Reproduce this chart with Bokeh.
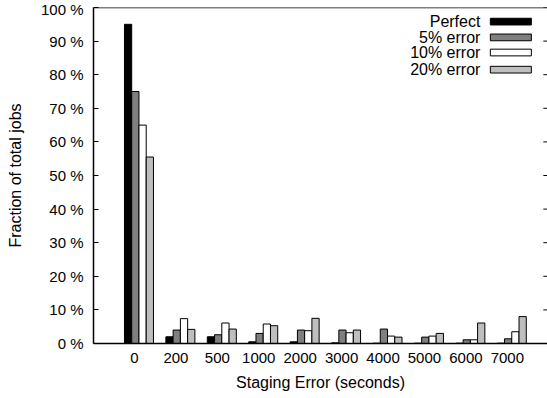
from bokeh.plotting import figure
from bokeh.models import FixedTicker, Range1d, Label, BoxAnnotation, Span
from bokeh.embed import file_html
from bokeh.resources import INLINE
import numpy as np

# ---- data ----
categories = ["0", "200", "500", "1000", "2000", "3000", "4000", "5000", "6000", "7000"]
perfect = [95.0, 2.0, 2.0, 0.5, 0.5, 0.2, 0.1, 0.1, 0.1, 0.1]
err5 = [75.0, 4.0, 2.6, 3.0, 4.0, 4.0, 4.3, 1.9, 1.1, 1.4]
err10 = [65.0, 7.4, 6.1, 5.8, 3.8, 3.2, 2.2, 2.2, 1.1, 3.5]
err20 = [55.5, 4.2, 4.3, 5.3, 7.5, 4.0, 1.9, 3.0, 6.1, 8.0]
series_names = ["Perfect", "5% error", "10% error", "20% error"]
y_ticks = [0, 10, 20, 30, 40, 50, 60, 70, 80, 90, 100]
x_title = "Staging Error (seconds)"
y_title = "Fraction of total jobs"

series = [perfect, err5, err10, err20]
colors = ["#000000", "#7f7f7f", "#ffffff", "#bebebe"]
offsets = [-0.155, 0.02, 0.195, 0.37]
bar_w = 0.175
FONT = "Liberation Sans"
X_START, X_END = -0.99, 9.97

p = figure(width=547, height=398, x_range=Range1d(X_START, X_END), y_range=Range1d(0, 100),
           output_backend="svg", toolbar_location=None,
           min_border_left=93, min_border_right=0, min_border_top=7, min_border_bottom=55)

xs = np.arange(len(categories))
for vals, col, off in zip(series, colors, offsets):
    p.vbar(x=xs + off, top=vals, bottom=0, width=bar_w, fill_color=col,
           line_color="#000000", line_width=1)

p.xgrid.visible = False
p.ygrid.visible = False
p.outline_line_color = None
p.background_fill_color = "white"
p.border_fill_color = "white"
p.add_layout(Span(location=100, dimension="width", line_color="black", line_width=1.5))

# mirrored inward tick marks on the right edge (gnuplot style)
tick_len = 0.1
p.segment(x0=[X_END - tick_len] * len(y_ticks), y0=y_ticks,
          x1=[X_END] * len(y_ticks), y1=y_ticks, line_color="black", line_width=1)

xa = p.xaxis[0]
xa.ticker = FixedTicker(ticks=list(range(len(categories))))
xa.major_label_overrides = {i: c for i, c in enumerate(categories)}
xa.major_tick_line_color = None
xa.minor_tick_line_color = None
xa.axis_line_color = "black"
xa.axis_line_width = 1.5
xa.major_label_text_font = FONT
xa.major_label_text_font_size = "15px"
xa.major_label_text_color = "black"
xa.major_label_standoff = 3
xa.axis_label = x_title
xa.axis_label_text_font = FONT
xa.axis_label_text_font_size = "16px"
xa.axis_label_text_font_style = "normal"
xa.axis_label_text_color = "black"
xa.axis_label_standoff = 8

ya = p.yaxis[0]
ya.ticker = FixedTicker(ticks=y_ticks)
ya.major_label_overrides = {t: f"{t} %" for t in y_ticks}
ya.major_tick_in = 5
ya.major_tick_out = 0
ya.minor_tick_line_color = None
ya.axis_line_color = "black"
ya.axis_line_width = 1.5
ya.major_label_text_font = FONT
ya.major_label_text_font_size = "15px"
ya.major_label_text_color = "black"
ya.major_label_standoff = 10
ya.axis_label = y_title
ya.axis_label_text_font = FONT
ya.axis_label_text_font_size = "16px"
ya.axis_label_text_font_style = "normal"
ya.axis_label_text_color = "black"
ya.axis_label_standoff = 14

# legend (gnuplot style: right-aligned text, sample box to the right)
leg_rows = [95.8, 91.1, 86.6, 81.5]
for name, col, yy in zip(series_names, colors, leg_rows):
    p.add_layout(Label(x=8.35, y=yy, text=name, text_align="right", text_baseline="middle",
                       text_font=FONT, text_font_size="16px", text_color="black"))
    p.add_layout(BoxAnnotation(left=8.59, right=9.58, bottom=yy - 1.0, top=yy + 1.0,
                               fill_color=col, fill_alpha=1, line_color="black",
                               line_width=1, line_alpha=1))

open("out.html", "w").write(file_html(p, INLINE))
